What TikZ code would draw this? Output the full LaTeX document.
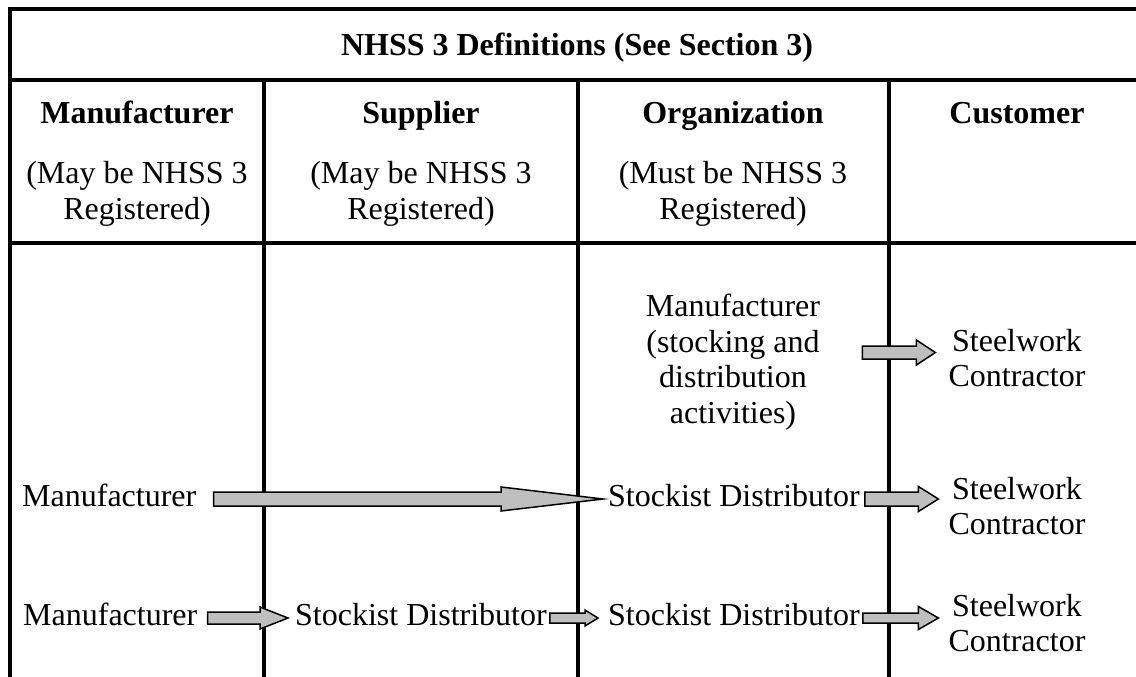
\documentclass[tikz,border=0pt]{standalone}
\usepackage{fontspec}
\setmainfont{Liberation Serif}
\usetikzlibrary{calc}

% fat grey arrow: tail node, tail gap, tip node, tip gap, half shaft, half head, head length
\newcommand{\flowarrow}[7]{%
  \draw[blockarrow] ($(#1)+(#2,-#5)$) -- ($(#3 |- #1)+(-#4-#7,-#5)$) -- ($(#3 |- #1)+(-#4-#7,-#6)$)
    -- ($(#3 |- #1)+(-#4,0)$) -- ($(#3 |- #1)+(-#4-#7,#6)$) -- ($(#3 |- #1)+(-#4-#7,#5)$)
    -- ($(#1)+(#2,#5)$) -- cycle;}

\begin{document}
% mid anchors take their ex from this size
\fontsize{32}{35.5}\selectfont
\begin{tikzpicture}[x=1pt,y=-1pt,
    rule/.style={line width=4pt},
    txt/.style={inner sep=0pt,font=\fontsize{32}{35.5}\selectfont},
    colhead/.style={txt,anchor=base,font=\fontsize{32}{35.5}\selectfont\bfseries},
    cell/.style={txt,align=center},
    blockarrow/.style={fill=black!25,draw=black,line width=1.5pt,line join=miter}]
  \useasboundingbox (0,0) rectangle (1136,677);
  \clip (0,0) rectangle (1136,677);

  % table rules
  \draw[rule] (10,9) -- (1150,9);
  \draw[rule] (10,80.5) -- (1150,80.5);
  \draw[rule] (10,243) -- (1150,243);
  \draw[rule] (10,7) -- (10,680);
  \foreach \x in {264,578,889}
    \draw[rule] (\x,80.5) -- (\x,680);

  % headings
  \node[colhead] (title) at (577,56) {NHSS 3 Definitions (See Section 3)};
  \node[colhead] (hmfr) at (137,123) {Manufacturer};
  \node[colhead] (hsup) at (421,123) {Supplier};
  \node[colhead] (horg) at (733,123) {Organization};
  \node[colhead] (hcus) at (1017,123) {Customer};
  \node[cell] (smfr) at (137,194) {(May be NHSS 3\\Registered)};
  \node[cell] (ssup) at (421,194) {(May be NHSS 3\\Registered)};
  \node[cell] (sorg) at (733,194) {(Must be NHSS 3\\Registered)};

  % first chain
  \node[cell] (orgA) at (733,362) {Manufacturer\\(stocking and\\distribution\\activities)};
  \node[cell] (cusA) at (1017,358) {Steelwork\\Contractor};
  \coordinate (orgA out) at ([yshift=9.5pt]orgA.east);

  % second chain
  \node[txt,anchor=mid west] (mfrB) at (22,499) {Manufacturer};
  \node[txt,anchor=mid west] (orgB) at (608,499) {Stockist Distributor};
  \node[cell] (cusB) at (1017,506) {Steelwork\\Contractor};

  % third chain
  \node[txt,anchor=mid west] (mfrC) at (23,618) {Manufacturer};
  \node[txt,anchor=mid west] (supC) at (295,618) {Stockist Distributor};
  \node[txt,anchor=mid west] (orgC) at (608,618) {Stockist Distributor};
  \node[cell] (cusC) at (1017,623) {Steelwork\\Contractor};

  \flowarrow{orgA out}{42}{cusA.west}{13}{6.5}{12.5}{19}
  \flowarrow{mfrB.mid east}{17}{orgB.mid west}{5}{7}{12}{102}
  \flowarrow{orgB.mid east}{5}{cusB.west}{10}{7}{12.5}{20}
  \flowarrow{mfrC.mid east}{10}{supC.mid west}{7}{6}{11}{28}
  \flowarrow{supC.mid east}{3}{orgC.mid west}{10}{5}{8}{13}
  \flowarrow{orgC.mid east}{3}{cusC.west}{10}{5}{11.5}{20}
\end{tikzpicture}
\end{document}
